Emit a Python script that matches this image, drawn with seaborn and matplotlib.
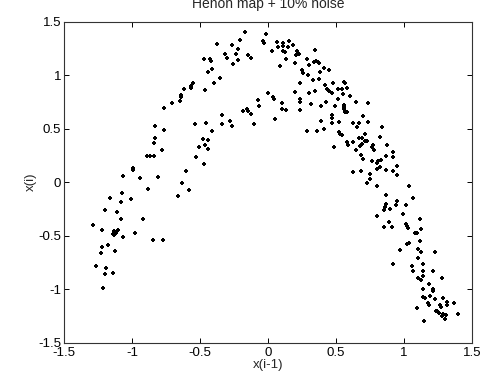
import numpy as np
import pandas as pd
import matplotlib
matplotlib.use("Agg")
import matplotlib.pyplot as plt
import seaborn as sns

# points: x(i-1) and x(i), in matching order
x_prev = [
    # left leg
    -0.885, -1.071, -1.162, -1.078, -1.005, -1.201, -1.113, -1.078, -0.917, -1.289,
    -1.221, -1.13, -1.10, -1.14, -1.13, -1.12, -0.980, -1.066, -0.843, -0.772,
    -1.174, -1.221, -1.228, -1.123, -1.267, -1.189, -1.201, -1.142, -1.216,
    -0.831, -0.831, -0.836, -0.887, -0.868, -0.836, -0.995, -0.995, -1.069, -0.939, -0.806,
    # rising side
    -0.167, -0.373, -0.265, -0.204, -0.223, -0.233, -0.319, -0.301, -0.218, -0.257,
    -0.149, -0.125, -0.473, -0.426, -0.422, -0.412, -0.439, -0.353, -0.399, -0.554,
    -0.566, -0.568, -0.620, -0.466, -0.637, -0.642, -0.647, -0.703, -0.765, -0.074,
    -0.069, -0.181, -0.157, -0.149, -0.127, -0.338, -0.279, -0.262, -0.338, -0.458,
    -0.534, -0.100, -0.414, -0.762, -0.475, -0.439, -0.461, -0.439, -0.505, -0.782,
    -0.527, -0.473, -0.601, -0.635, -0.581, -0.662,
    # top and upper right
    -0.015, -0.034, -0.029, 0.064, 0.108, 0.108, 0.157, 0.186, 0.076, 0.027,
    0.113, 0.123, 0.149, 0.211, 0.223, 0.206, 0.230, 0.346, 0.132, 0.284,
    0.196, 0.088, 0.299, 0.341, 0.353, 0.368, 0.378, 0.412, 0.451, 0.248,
    0.260, 0.292, 0.382, 0.333, 0.373, 0.235, 0.421, 0.475, 0.559, 0.569,
    0.436, 0.451, 0.468, 0.515, 0.544, 0.578, 0.000, 0.039, 0.047, 0.196,
    0.304, 0.346, 0.512, 0.603, 0.647, 0.235, 0.235, 0.319, 0.426, 0.103,
    0.100, 0.135, 0.235, 0.387, 0.495, 0.556, 0.559, 0.559, 0.569, 0.578,
    0.054, 0.468, 0.473, 0.473, 0.392, 0.522, 0.627, 0.657, 0.289, 0.360,
    0.412, 0.525, 0.529, 0.542, 0.578, 0.627, 0.488, 0.671,
    0.586, 0.649, 0.627,
    # falling side
    0.554, 0.738, 0.667, 0.735, 0.701, 0.836, 0.689, 0.713, 0.711, 0.730,
    0.824, 0.691, 0.676, 0.775, 0.765, 0.779, 0.877, 0.681, 0.701, 0.922,
    0.922, 0.868, 0.765, 0.811, 0.828, 0.804, 0.824, 0.799, 0.951, 0.868,
    0.917, 0.951, 0.681, 0.750, 0.750, 0.730, 0.804, 1.039,
    # right leg
    0.868, 0.946, 0.939, 1.012, 1.069, 0.868, 0.860, 0.853, 0.897, 0.993,
    0.804, 1.118, 0.892, 0.855, 0.912, 1.012, 1.020, 1.027, 1.125, 1.081,
    1.093, 1.120, 1.025, 1.039, 0.971, 1.103, 1.125, 1.230, 1.105, 1.142,
    0.917, 1.059, 1.066, 1.142, 1.216, 1.137, 1.105, 1.127, 1.282, 1.181,
    1.140, 1.213, 1.216, 1.142, 1.154, 1.191, 1.225, 1.289, 1.314, 1.176,
    1.181, 1.265, 1.272, 1.314, 1.370, 1.093, 1.235, 1.245, 1.260, 1.289,
    1.309, 1.399, 1.277, 1.299, 1.147,
]

x_cur = [
    # left leg
    -0.065, -0.100, -0.150, -0.187, -0.159, -0.262, -0.280, -0.340, -0.340, -0.402,
    -0.442, -0.46, -0.45, -0.48, -0.49, -0.47, -0.474, -0.511, -0.536, -0.536,
    -0.589, -0.604, -0.664, -0.639, -0.779, -0.804, -0.857, -0.844, -0.984,
    0.523, 0.417, 0.368, 0.240, 0.240, 0.240, 0.137, 0.112, 0.059, 0.037, 0.047,
    # rising side
    1.405, 1.293, 1.277, 1.327, 1.240, 1.199, 1.193, 1.156, 1.137, 1.106,
    1.184, 1.156, 1.146, 1.146, 1.131, 1.059, 1.025, 0.975, 0.925, 0.922,
    0.900, 0.875, 0.872, 0.863, 0.810, 0.791, 0.754, 0.735, 0.692, 0.769,
    0.710, 0.664, 0.685, 0.666, 0.632, 0.623, 0.573, 0.520, 0.539, 0.554,
    0.539, 0.539, 0.477, 0.486, 0.402, 0.393, 0.349, 0.308, 0.324, 0.296,
    0.237, 0.168, 0.100, -0.003, -0.072, -0.131,
    # top and upper right
    1.380, 1.321, 1.302, 1.308, 1.296, 1.271, 1.321, 1.283, 1.259, 1.224,
    1.227, 1.215, 1.259, 1.227, 1.209, 1.190, 1.196, 1.234, 1.147, 1.147,
    1.109, 1.081, 1.090, 1.118, 1.134, 1.121, 1.109, 1.068, 1.044, 1.047,
    1.022, 1.000, 1.025, 0.953, 0.960, 0.922, 0.910, 0.925, 0.935, 0.922,
    0.866, 0.850, 0.829, 0.866, 0.872, 0.882, 0.832, 0.797, 0.779, 0.841,
    0.832, 0.850, 0.776, 0.801, 0.748, 0.773, 0.745, 0.726, 0.751, 0.738,
    0.685, 0.673, 0.670, 0.707, 0.710, 0.720, 0.698, 0.679, 0.654, 0.651,
    0.589, 0.626, 0.595, 0.551, 0.573, 0.564, 0.554, 0.511, 0.479, 0.479,
    0.498, 0.470, 0.451, 0.439, 0.377, 0.374, 0.330, 0.411,
    0.349, 0.296, 0.091,
    # falling side
    0.822, 0.735, 0.554, 0.564, 0.614, 0.517, 0.417, 0.449, 0.383, 0.386,
    0.424, 0.352, 0.340, 0.349, 0.324, 0.299, 0.349, 0.252, 0.212, 0.280,
    0.237, 0.243, 0.196, 0.196, 0.206, 0.175, 0.143, 0.124, 0.152, 0.112,
    0.109, 0.063, 0.109, 0.075, 0.031, -0.012, -0.031, -0.031,
    # right leg
    -0.121, -0.175, -0.215, -0.215, -0.147, -0.206, -0.231, -0.255, -0.252, -0.299,
    -0.318, -0.346, -0.371, -0.414, -0.414, -0.393, -0.411, -0.430, -0.439, -0.470,
    -0.470, -0.551, -0.573, -0.564, -0.629, -0.620, -0.654, -0.651, -0.704, -0.766,
    -0.766, -0.782, -0.832, -0.829, -0.832, -0.879, -0.891, -0.916, -0.897, -0.947,
    -1.000, -1.000, -1.016, -1.069, -1.078, -1.065, -1.087, -1.084, -1.118, -1.125,
    -1.146, -1.146, -1.162, -1.150, -1.128, -1.178, -1.206, -1.199, -1.218, -1.227,
    -1.237, -1.234, -1.246, -1.274, -1.293,
]

ticks = [-1.5, -1, -0.5, 0, 0.5, 1, 1.5]
tick_labels = ["-1.5", "-1", "-0.5", "0", "0.5", "1", "1.5"]

df = pd.DataFrame({"x(i-1)": x_prev, "x(i)": x_cur})

sns.set_style("ticks")
plt.rcParams["font.family"] = ["Liberation Sans", "DejaVu Sans"]

fig = plt.figure(figsize=(4.85, 3.84), dpi=100)
ax = fig.add_axes([0.132, 0.107, 0.841, 0.837])

sns.scatterplot(data=df, x="x(i-1)", y="x(i)", ax=ax, marker="P",
                s=11, color="black", linewidth=0)

ax.set_xlim(-1.5, 1.5)
ax.set_ylim(-1.5, 1.5)
ax.set_xticks(ticks)
ax.set_xticklabels(tick_labels)
ax.set_yticks(ticks)
ax.set_yticklabels(tick_labels)
ax.tick_params(direction="in", length=3.5, width=0.7, labelsize=9.5,
               top=True, right=True, pad=3, colors="black")
ax.tick_params(axis="y", pad=2)
for sp in ax.spines.values():
    sp.set_visible(True)
    sp.set_linewidth(0.8)
    sp.set_color("#333333")

ax.set_xlabel("x(i-1)", fontsize=9.5, labelpad=0)
ax.set_ylabel("x(i)", fontsize=9.5, labelpad=1)
ax.set_title("Henon map + 10% noise", fontsize=10, pad=10)

fig.savefig("out.png", dpi=100)
